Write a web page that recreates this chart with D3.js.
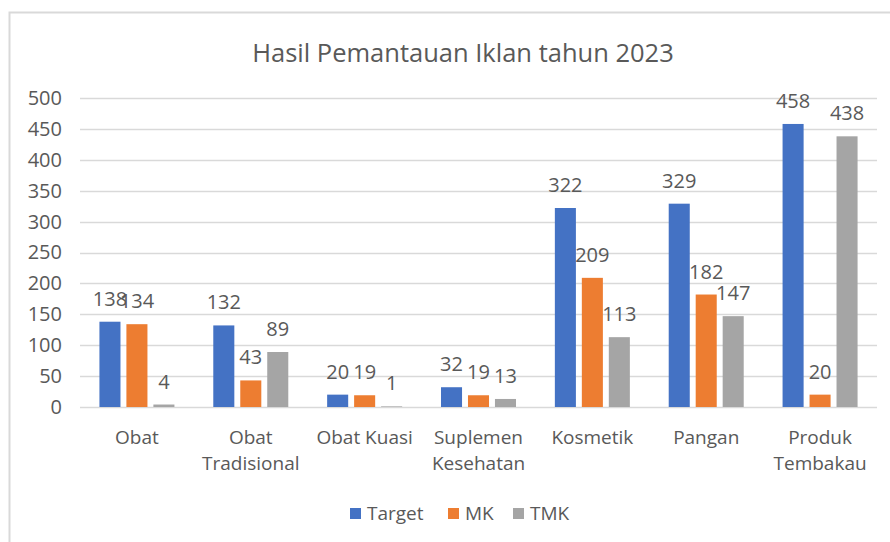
<!DOCTYPE html>
<html>
<head>
<meta charset="utf-8">
<script src="https://cdn.jsdelivr.net/npm/d3@7"></script>
<style>
  body { margin: 0; background: #fff; }
  text { font-family: "Open Sans", sans-serif; fill: #595959; }
</style>
</head>
<body>
<div id="chart"></div>
<script>
// data
var categories = ["Obat", "Obat Tradisional", "Obat Kuasi", "Suplemen Kesehatan", "Kosmetik", "Pangan", "Produk Tembakau"];
var catLines = [["Obat"], ["Obat", "Tradisional"], ["Obat Kuasi"], ["Suplemen", "Kesehatan"], ["Kosmetik"], ["Pangan"], ["Produk", "Tembakau"]];
var seriesNames = ["Target", "MK", "TMK"];
var target = [138, 132, 20, 32, 322, 329, 458];
var mk = [134, 43, 19, 19, 209, 182, 20];
var tmk = [4, 89, 1, 13, 113, 147, 438];
var yTicks = [0, 50, 100, 150, 200, 250, 300, 350, 400, 450, 500];
var colors = ["#4472C4", "#ED7D31", "#A5A5A5"];

var W = 890, H = 542;
var plotLeft = 80, plotRight = 877, plotTop = 98, plotBottom = 407;

var svg = d3.select("#chart").append("svg")
  .attr("width", W).attr("height", H);

// chart border
svg.append("rect")
  .attr("x", 9.5).attr("y", 12.5)
  .attr("width", W).attr("height", H)
  .attr("fill", "none").attr("stroke", "#D9D9D9").attr("stroke-width", 2);

svg.append("text")
  .attr("x", 463).attr("y", 62)
  .attr("text-anchor", "middle")
  .attr("font-size", "25.5px")
  .text("Hasil Pemantauan Iklan tahun 2023");

var y = d3.scaleLinear().domain([0, 500]).range([plotBottom, plotTop]);
var x0 = d3.scaleBand().domain(categories).range([plotLeft, plotRight]);
var x1 = d3.scaleBand().domain(seriesNames).range([-37.5, 37.5]).paddingInner(0.22);

// gridlines
svg.append("g").selectAll("line")
  .data(yTicks)
  .enter().append("line")
  .attr("x1", plotLeft).attr("x2", plotRight)
  .attr("y1", function(d) { return Math.round(y(d)) + 0.5; })
  .attr("y2", function(d) { return Math.round(y(d)) + 0.5; })
  .attr("stroke", "#D9D9D9").attr("stroke-width", 1.5);

// y axis labels
var yAxis = d3.axisLeft(y).tickValues(yTicks).tickSize(0).tickPadding(0);
var gy = svg.append("g").attr("transform", "translate(62,0)").call(yAxis);
gy.select(".domain").remove();
gy.selectAll("text")
  .attr("font-size", "20px")
  .attr("font-family", "'Open Sans', sans-serif")
  .attr("fill", "#595959");

var series = [target, mk, tmk];

seriesNames.forEach(function(name, si) {
  var g = svg.append("g");
  g.selectAll("rect")
    .data(series[si])
    .enter().append("rect")
    .attr("x", function(d, i) { return x0(categories[i]) + x0.bandwidth() / 2 + x1(name); })
    .attr("y", function(d) { return y(d); })
    .attr("width", x1.bandwidth())
    .attr("height", function(d) { return plotBottom - y(d); })
    .attr("fill", colors[si]);

  g.selectAll("text")
    .data(series[si])
    .enter().append("text")
    .attr("x", function(d, i) { return x0(categories[i]) + x0.bandwidth() / 2 + x1(name) + x1.bandwidth() / 2; })
    .attr("y", function(d) { return y(d) - 16; })
    .attr("text-anchor", "middle")
    .attr("font-size", "20px")
    .text(function(d) { return d; });
});

// category labels
var cg = svg.append("g");
catLines.forEach(function(lines, i) {
  var t = cg.append("text")
    .attr("x", x0(categories[i]) + x0.bandwidth() / 2)
    .attr("y", 444)
    .attr("text-anchor", "middle")
    .attr("font-size", "19px");
  lines.forEach(function(l, j) {
    t.append("tspan")
      .attr("x", x0(categories[i]) + x0.bandwidth() / 2)
      .attr("dy", j === 0 ? 0 : 26)
      .text(l);
  });
});

// legend
var legendX = [350, 448, 513];
var lg = svg.append("g");
seriesNames.forEach(function(name, i) {
  lg.append("rect")
    .attr("x", legendX[i]).attr("y", 508)
    .attr("width", 11).attr("height", 11)
    .attr("fill", colors[i]);
  lg.append("text")
    .attr("x", legendX[i] + 17).attr("y", 520)
    .attr("font-size", "19px")
    .text(name);
});
</script>
</body>
</html>
